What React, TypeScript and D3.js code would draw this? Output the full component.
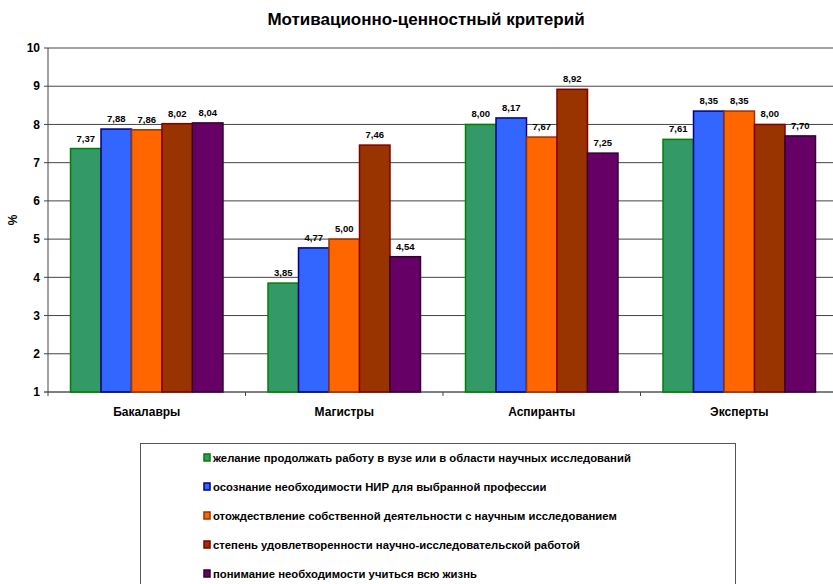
import React from "react";
import * as d3 from "d3";

const title = "Мотивационно-ценностный критерий";
const categories = ["Бакалавры", "Магистры", "Аспиранты", "Эксперты"];
const seriesNames = [
  "желание продолжать работу в вузе или в области научных исследований",
  "осознание необходимости НИР для выбранной профессии",
  "отождествление собственной деятельности с научным исследованием",
  "степень удовлетворенности научно-исследовательской работой",
  "понимание необходимости учиться всю жизнь",
];
const desire = [7.37, 3.85, 8.0, 7.61];
const awareness = [7.88, 4.77, 8.17, 8.35];
const identification = [7.86, 5.0, 7.67, 8.35];
const satisfaction = [8.02, 7.46, 8.92, 8.0];
const lifelong = [8.04, 4.54, 7.25, 7.7];
const seriesValues = [desire, awareness, identification, satisfaction, lifelong];
const yTicks = [1, 2, 3, 4, 5, 6, 7, 8, 9, 10];

const fills = ["#339966", "#3366FF", "#FF6600", "#993300", "#660066"];
const strokes = ["#008000", "#000080", "#993300", "#800000", "#330033"];

export default function App() {
  const width = 833;
  const height = 584;
  const margin = { top: 48, left: 48, right: -5, bottom: 192 };
  const plotBottom = height - margin.bottom;

  const x0 = d3
    .scaleBand()
    .domain(categories)
    .range([margin.left, width - margin.right])
    .paddingInner(0.228)
    .paddingOuter(0.114);
  const x1 = d3
    .scaleBand()
    .domain(d3.range(seriesNames.length).map(String))
    .range([0, x0.bandwidth()]);
  const y = d3.scaleLinear().domain([1, 10]).range([plotBottom, margin.top]);

  const step = x0.step();
  const font = "Arial, 'Liberation Sans', sans-serif";

  return (
    <svg
      width={width}
      height={height}
      style={{ position: "absolute", left: 0, top: 0, background: "#fff" }}
      fontFamily={font}
    >
      <text x={426} y={25} textAnchor="middle" fontWeight="bold" fontSize={17}>
        {title}
      </text>

      {yTicks.map((t) => (
        <g key={t}>
          <line
            x1={margin.left - 4}
            x2={width}
            y1={y(t)}
            y2={y(t)}
            stroke={t === 1 ? "#000" : "#444"}
            strokeWidth={1}
          />
          <text
            x={margin.left - 8}
            y={y(t)}
            dy="0.35em"
            textAnchor="end"
            fontWeight="bold"
            fontSize={12}
          >
            {t}
          </text>
        </g>
      ))}
      <line x1={margin.left} x2={margin.left} y1={margin.top} y2={plotBottom} stroke="#444" />
      {d3.range(categories.length + 1).map((i) => (
        <line
          key={i}
          x1={margin.left + i * step}
          x2={margin.left + i * step}
          y1={plotBottom}
          y2={plotBottom + 4}
          stroke="#444"
        />
      ))}

      <text
        transform={`translate(17,220) rotate(-90)`}
        textAnchor="middle"
        fontWeight="bold"
        fontSize={12}
      >
        %
      </text>

      {categories.map((c, ci) => (
        <g key={c}>
          {seriesValues.map((vals, si) => {
            const bx = (x0(c) as number) + (x1(String(si)) as number);
            const v = vals[ci];
            return (
              <g key={si}>
                <rect
                  x={bx}
                  y={y(v)}
                  width={x1.bandwidth()}
                  height={plotBottom - y(v)}
                  fill={fills[si]}
                  stroke={strokes[si]}
                  strokeWidth={1.5}
                />
                <text
                  x={bx + x1.bandwidth() / 2}
                  y={y(v) - 7}
                  textAnchor="middle"
                  fontWeight="bold"
                  fontSize={9.5}
                >
                  {v.toFixed(2).replace(".", ",")}
                </text>
              </g>
            );
          })}
          <text
            x={(x0(c) as number) + x0.bandwidth() / 2}
            y={plotBottom + 24}
            textAnchor="middle"
            fontWeight="bold"
            fontSize={12}
          >
            {c}
          </text>
        </g>
      ))}

      <rect x={140.5} y={443.5} width={595} height={150} fill="#fff" stroke="#555" />
      {seriesNames.map((n, i) => (
        <g key={n} transform={`translate(0, ${458 + i * 29})`}>
          <rect x={204} y={-4} width={6} height={7} fill={fills[i]} stroke={strokes[i]} strokeWidth={1.5} />
          <text x={213} y={0} dy="0.35em" fontWeight="bold" fontSize={11.3}>
            {n}
          </text>
        </g>
      ))}
    </svg>
  );
}
